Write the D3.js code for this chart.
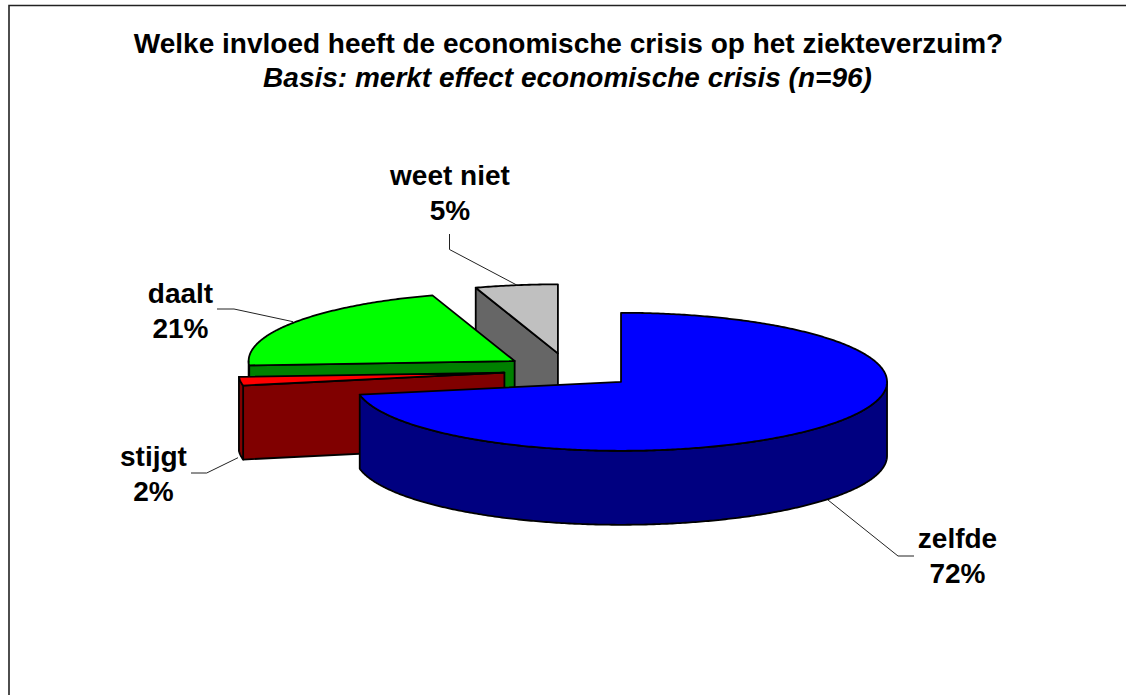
<!DOCTYPE html>
<html>
<head>
<meta charset="utf-8">
<script src="https://cdn.jsdelivr.net/npm/d3@7/dist/d3.min.js"></script>
<style>
  html, body { margin: 0; padding: 0; background: #fff; }
  svg { display: block; }
  text { font-family: "Liberation Sans", Arial, sans-serif; fill: #000; font-weight: bold; }
</style>
</head>
<body>
<svg id="chart" width="1126" height="695"></svg>
<script>
// Survey answers, in clockwise order from twelve o'clock
const categories = ["zelfde", "stijgt", "daalt", "weet niet"];
const shares = [72, 2, 21, 5];
const topColors = ["#0000ff", "#ff0000", "#00ff00", "#c0c0c0"];
const sideColors = ["#000080", "#800000", "#008000", "#666666"];
const titleLine = "Welke invloed heeft de economische crisis op het ziekteverzuim?";
const subtitleLine = "Basis: merkt effect economische crisis (n=96)";

const W = 1126, H = 695;
const center = { x: 568.4, y: 370.5 };
const rx = 266, ry = 69, depth = 74;
const explodeBy = [68.3, 64.5, 65, 67];

// Leader lines and label anchors per slice
const labelAt = [
  { x: 957.5, y: 548, leader: [[828, 500], [898, 556], [914, 556]] },
  { x: 153.5, y: 466, leader: [[238, 457.7], [206.7, 473], [191, 473]] },
  { x: 180.5, y: 303, leader: [[293, 321.7], [234, 309], [217, 309]] },
  { x: 450, y: 185, leader: [[516.7, 285], [449.5, 249.5], [449.5, 234]] }
];

const svg = d3.select("#chart");

// Page frame: open towards the right and bottom edges
svg.append("path")
  .attr("d", d3.line()([[9, H], [9, 5.5], [W, 5.5]]))
  .attr("fill", "none").attr("stroke", "#222").attr("stroke-width", 1.6);

svg.append("text").attr("x", 568.5).attr("y", 53)
  .attr("text-anchor", "middle").attr("font-size", 28).text(titleLine);
svg.append("text").attr("x", 567.5).attr("y", 87)
  .attr("text-anchor", "middle").attr("font-size", 28)
  .attr("font-style", "italic").text(subtitleLine);

const slices = d3.pie().sort(null).value(d => d)(shares);
const TAU = 2 * Math.PI;
const QUARTER = TAU / 4, THREE_QUARTER = 3 * TAU / 4;

function rimPoint(c, a, dy = 0) {
  return [c.x + rx * Math.sin(a), c.y - ry * Math.cos(a) + dy];
}
function rimArc(c, a0, a1, dy = 0) {
  const n = Math.max(2, Math.ceil((a1 - a0) / 0.01));
  return d3.range(n + 1).map(i => rimPoint(c, a0 + (a1 - a0) * i / n, dy));
}
const outline = d3.line();
const closed = pts => outline(pts) + "Z";

const pieGroup = svg.append("g")
  .attr("stroke", "#000").attr("stroke-width", 1.8).attr("stroke-linejoin", "round");

// Back-most slices first so the nearer ones overlap them
[3, 2, 1, 0].forEach(i => {
  const s = slices[i];
  const mid = (s.startAngle + s.endAngle) / 2;
  const c = {
    x: center.x + explodeBy[i] * Math.sin(mid),
    y: center.y - explodeBy[i] * (ry / rx) * Math.cos(mid)
  };
  const g = pieGroup.append("g");

  // Cut faces turned towards the viewer
  const cutFace = a => [
    [c.x, c.y], rimPoint(c, a), rimPoint(c, a, depth), [c.x, c.y + depth]
  ];
  if (s.startAngle > Math.PI) g.append("path").attr("d", closed(cutFace(s.startAngle))).attr("fill", sideColors[i]);
  if (s.endAngle < Math.PI) g.append("path").attr("d", closed(cutFace(s.endAngle))).attr("fill", sideColors[i]);

  // Outer wall, only along the near half of the ellipse
  const w0 = Math.max(s.startAngle, QUARTER), w1 = Math.min(s.endAngle, THREE_QUARTER);
  if (w1 > w0) {
    const upper = rimArc(c, w0, w1);
    const lower = rimArc(c, w0, w1, depth).reverse();
    g.append("path").attr("d", closed(upper.concat(lower))).attr("fill", sideColors[i]);
  }

  // Top face
  g.append("path")
    .attr("d", closed([[c.x, c.y]].concat(rimArc(c, s.startAngle, s.endAngle))))
    .attr("fill", topColors[i]);
});

// Leader lines and labels
categories.forEach((name, i) => {
  const a = labelAt[i];
  svg.append("path").attr("d", outline(a.leader))
    .attr("fill", "none").attr("stroke", "#222").attr("stroke-width", 1);
  const t = svg.append("text").attr("text-anchor", "middle").attr("font-size", 28)
    .attr("x", a.x).attr("y", a.y);
  t.append("tspan").attr("x", a.x).text(name);
  t.append("tspan").attr("x", a.x).attr("dy", 35).text(shares[i] + "%");
});
</script>
</body>
</html>
